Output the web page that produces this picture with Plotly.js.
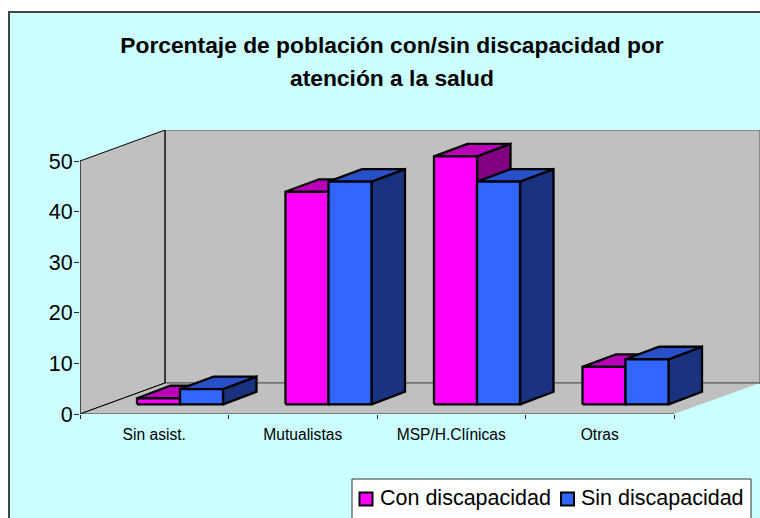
<!DOCTYPE html>
<html>
<head>
<meta charset="utf-8">
<script src="https://cdn.plot.ly/plotly-3.0.1.min.js"></script>
<style>html,body{margin:0;padding:0;background:#fff;overflow:hidden}</style>
</head>
<body>
<div id="chart" style="width:760px;height:518px"></div>
<script>
// ---- data
const categories = ["Sin asist.", "Mutualistas", "MSP/H.Clínicas", "Otras"];
const conDiscapacidad = [1.2, 42, 49, 7.4];
const sinDiscapacidad = [3, 44, 44, 8.9];
const yTicks = [0, 10, 20, 30, 40, 50];
const chartTitle = ["Porcentaje de población con/sin discapacidad por", "atención a la salud"];

// ---- styles
const FONT = "Liberation Sans, Arial, sans-serif";
const pink = {name: "Con discapacidad", front: "#FF00FF", top: "#B800B8", side: "#800080", values: conDiscapacidad};
const blue = {name: "Sin discapacidad", front: "#3366FF", top: "#2850C8", side: "#1A3380", values: sinDiscapacidad};
const WALL = "#C0C0C0";

// ---- oblique projection, in axis units
const W = 760, H = 518, L = 80, T = 130, B = 104;
const PW = W - L, PH = H - T - B;
const XMAX = PW / 148.5, YMAX = PH / 5.06;
const wallDx = 85 / 148.5, wallDy = 31 / 5.06;
const baseDx = 26 / 148.5, baseDy = 9.7 / 5.06;
const barDx = 33.5 / 148.5, barDy = 12.5 / 5.06;
const barW = 43 / 148.5, groupGap = 31 / 148.5;
const px = v => (v - L) / PW, py = v => 1 - (v - T) / PH;

function poly(xs, ys, fill, line, lw) {
  return {type: "scatter", mode: "lines", x: xs.concat(xs[0]), y: ys.concat(ys[0]),
    fill: "toself", fillcolor: fill, line: {color: line, width: lw, simplify: false},
    hoverinfo: "skip", showlegend: false, cliponaxis: false};
}
function seg(xs, ys, color, lw) {
  return {type: "scatter", mode: "lines", x: xs, y: ys, line: {color: color, width: lw},
    hoverinfo: "skip", showlegend: false, cliponaxis: false};
}

const traces = [];
// walls and floor
traces.push(poly([wallDx, XMAX, XMAX, wallDx], [wallDy, wallDy, YMAX, YMAX], WALL, "#555", 1));
traces.push(poly([0, wallDx, wallDx, 0], [0, wallDy, YMAX, 50], WALL, "#000", 1));
traces.push(poly([0, 4, XMAX, wallDx], [0, 0, wallDy, wallDy], WALL, "rgba(0,0,0,0)", 0));
traces.push(seg([wallDx, XMAX], [wallDy, wallDy], "#555", 1));
traces.push(seg([0, wallDx], [0, wallDy], "#000", 1));
traces.push(seg([wallDx, wallDx], [wallDy, YMAX], "#222", 1));
traces.push(seg([0, 4], [0, 0], "#333", 1));
traces.push(seg([0, 0], [0, 50], "#333", 1));

// bars, back to front, left to right
categories.forEach((c, i) => {
  [pink, blue].forEach((s, k) => {
    const x0 = i + baseDx + groupGap + k * barW, x1 = x0 + barW;
    const y0 = baseDy, y1 = baseDy + s.values[i];
    traces.push(poly([x1, x1 + barDx, x1 + barDx, x1], [y0, y0 + barDy, y1 + barDy, y1], s.side, "#000", 2.3));
    traces.push(poly([x0, x1, x1 + barDx, x0 + barDx], [y1, y1, y1 + barDy, y1 + barDy], s.top, "#000", 2.3));
    traces.push(poly([x0, x1, x1, x0], [y0, y0, y1, y1], s.front, "#000", 2.3));
  });
});

const titleFont = {family: FONT, size: 22.8, color: "#000"};
const legendItems = [{s: pink, box: 359.5, text: 377.5}, {s: blue, box: 561, text: 578.5}];

const layout = {
  width: W, height: H, autosize: false,
  paper_bgcolor: "#FFFFFF", plot_bgcolor: "rgba(0,0,0,0)",
  margin: {l: L, r: 0, t: T, b: B, pad: 0},
  showlegend: false,
  font: {family: FONT, color: "#000"},
  title: {
    text: "<b>" + chartTitle[0] + "</b>", font: titleFont,
    x: 392 / W, xref: "container", xanchor: "center", y: 1 - 45 / H, yref: "container", yanchor: "middle"
  },
  annotations: [{
    text: "<b>" + chartTitle[1] + "</b>", xref: "paper", yref: "paper", showarrow: false,
    x: px(392), y: py(78), xanchor: "center", yanchor: "middle", font: titleFont
  }].concat(legendItems.map(it => ({
    text: it.s.name, xref: "paper", yref: "paper", showarrow: false,
    x: px(it.text), y: py(498), xanchor: "left", yanchor: "middle",
    font: {family: FONT, size: 21.5, color: "#000"}
  }))),
  xaxis: {
    range: [0, XMAX], type: "linear", showline: false, showgrid: false, zeroline: false, fixedrange: true,
    tickmode: "array", tickvals: categories.map((c, i) => i + 0.5), ticktext: categories,
    ticks: "", tickfont: {family: FONT, size: 15.6, color: "#000"}, ticklabelstandoff: 9,
    minor: {tickmode: "array", tickvals: [0, 1, 2, 3, 4], ticks: "outside", ticklen: 4, tickwidth: 1, tickcolor: "#222", showgrid: false}
  },
  yaxis: {
    range: [0, YMAX], type: "linear", showline: false, showgrid: false, zeroline: false, fixedrange: true,
    tickmode: "array", tickvals: yTicks, ticktext: yTicks.map(String),
    ticks: "outside", ticklen: 5, tickwidth: 1, tickcolor: "#222", ticklabelstandoff: -3,
    tickfont: {family: FONT, size: 21.5, color: "#000"}
  },
  shapes: [
    {type: "rect", layer: "below", xref: "paper", yref: "paper",
     x0: px(9), x1: 1.02, y0: py(H + 10), y1: py(12),
     fillcolor: "#CCFFFF", line: {color: "#444", width: 2}},
    {type: "rect", layer: "below", xref: "paper", yref: "paper",
     x0: px(352), x1: px(751), y0: py(H + 5), y1: py(479),
     fillcolor: "#FFFFFF", line: {color: "#333", width: 1}}
  ].concat(legendItems.map(it => ({
     type: "rect", layer: "below", xref: "paper", yref: "paper",
     x0: px(it.box), x1: px(it.box + 13), y0: py(505.5), y1: py(492.5),
     fillcolor: it.s.front, line: {color: "#000", width: 2}
  })))
};
Plotly.newPlot("chart", traces, layout, {displayModeBar: false, staticPlot: true});
</script>
</body>
</html>
